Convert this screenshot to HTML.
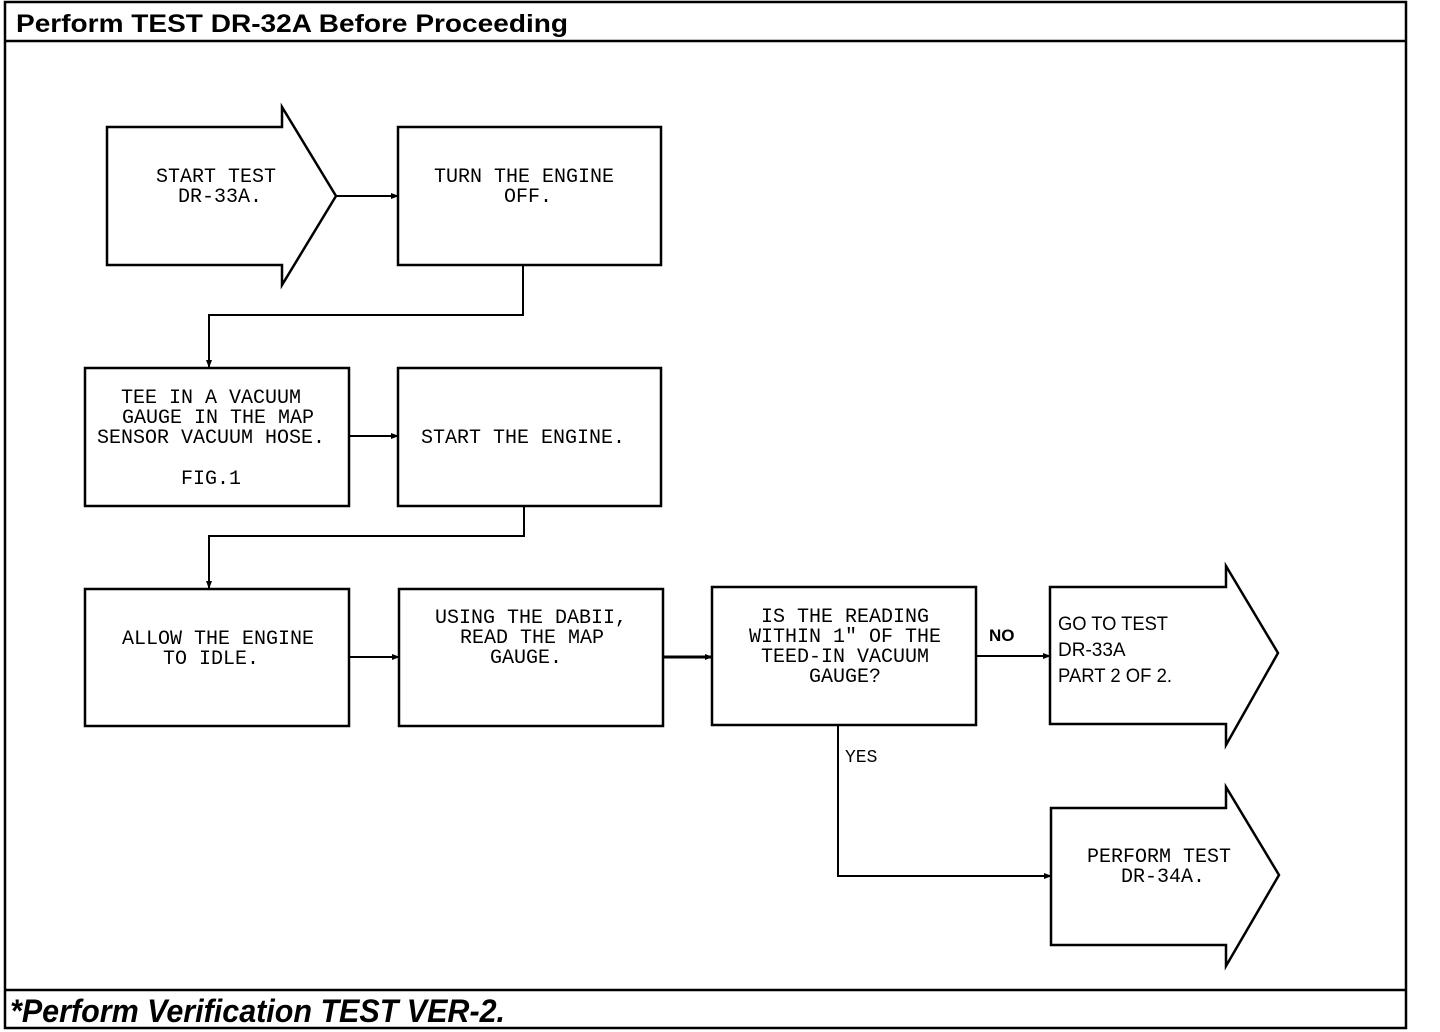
<!DOCTYPE html>
<html><head><style>
html,body{margin:0;padding:0;background:#fff;}
svg{display:block;}
.m{font-family:"Liberation Mono",monospace;font-size:20px;fill:#000;}
.s{font-family:"Liberation Sans",sans-serif;font-size:19px;fill:#000;}
</style></head><body>
<svg width="1440" height="1032" viewBox="0 0 1440 1032" xmlns="http://www.w3.org/2000/svg">
<defs><marker id="a" markerWidth="8" markerHeight="8" refX="7" refY="4" orient="auto" markerUnits="userSpaceOnUse"><path d="M0,1 L8,4 L0,7 z" fill="#000"/></marker></defs>
<g fill="none" stroke="#000" stroke-width="2.5">
<rect x="5" y="2" width="1401" height="1026"/>
<line x1="5" y1="41" x2="1406" y2="41"/>
<line x1="5" y1="990" x2="1406" y2="990"/>
<path d="M107,127 H282 V107 L336,196 L282,285 V265 H107 Z"/>
<rect x="398" y="127" width="263" height="138"/>
<rect x="85" y="368" width="264" height="138"/>
<rect x="398" y="368" width="263" height="138"/>
<rect x="85" y="589" width="264" height="137"/>
<rect x="399" y="589" width="264" height="137"/>
<rect x="712" y="587" width="264" height="138"/>
<path d="M1050,587 H1226 V566 L1278,653 L1226,745 V724 H1050 Z"/>
<path d="M1051,808 H1226 V787 L1279,875 L1226,966 V945 H1051 Z"/>
</g>
<g fill="none" stroke="#000" stroke-width="2" marker-end="url(#a)">
<line x1="336" y1="196" x2="398" y2="196"/>
<path d="M523,265 V315 H209 V367"/>
<line x1="349" y1="436" x2="398" y2="436"/>
<path d="M524,506 V536 H209 V588"/>
<line x1="349" y1="657" x2="399" y2="657"/>
<line x1="663" y1="657" x2="712" y2="657" stroke-width="3"/>
<line x1="976" y1="656" x2="1050" y2="656"/>
<path d="M838,725 V876 H1051"/>
</g>
<text x="16" y="32" font-family="Liberation Sans,sans-serif" font-weight="bold" font-size="25" textLength="552" lengthAdjust="spacingAndGlyphs">Perform TEST DR-32A Before Proceeding</text>
<text x="10" y="1022" font-family="Liberation Sans,sans-serif" font-weight="bold" font-style="italic" font-size="32" textLength="495" lengthAdjust="spacingAndGlyphs">*Perform Verification TEST VER-2.</text>
<g class="m" text-anchor="middle">
<text x="216" y="182">START TEST</text><text x="220" y="202">DR-33A.</text>
<text x="524" y="182">TURN THE ENGINE</text><text x="528" y="202">OFF.</text>
<text x="211" y="403">TEE IN A VACUUM</text><text x="218" y="423">GAUGE IN THE MAP</text><text x="211" y="443">SENSOR VACUUM HOSE.</text><text x="211" y="484">FIG.1</text>
<text x="523" y="443">START THE ENGINE.</text>
<text x="218" y="644">ALLOW THE ENGINE</text><text x="211" y="664">TO IDLE.</text>
<text x="531" y="623">USING THE DABII,</text><text x="532" y="643">READ THE MAP</text><text x="526" y="663">GAUGE.</text>
<text x="845" y="622">IS THE READING</text><text x="845" y="642">WITHIN 1" OF THE</text><text x="845" y="662">TEED-IN VACUUM</text><text x="845" y="682">GAUGE?</text>
<text x="1159" y="862">PERFORM TEST</text><text x="1163" y="882">DR-34A.</text>
</g>
<g class="s">
<text x="1058" y="630" textLength="110" lengthAdjust="spacingAndGlyphs">GO TO TEST</text>
<text x="1058" y="656">DR-33A</text>
<text x="1058" y="682" textLength="114" lengthAdjust="spacingAndGlyphs">PART 2 OF 2.</text>
<text x="989" y="641" font-weight="bold" font-size="17">NO</text>
<text x="845" y="762" font-family="Liberation Mono,monospace" font-size="18">YES</text>
</g>
</svg>
</body></html>
